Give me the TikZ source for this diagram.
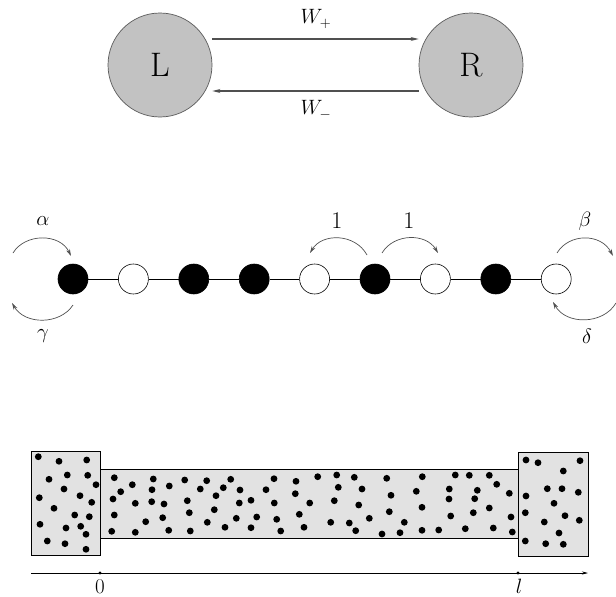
\documentclass[tikz,border=0pt]{standalone}
\usepackage{fontspec}
\usetikzlibrary{arrows.meta}
\definecolor{bubble}{HTML}{C2C2C2}
\definecolor{tubefill}{HTML}{E2E2E2}
\definecolor{arrgray}{HTML}{505050}
\tikzset{
  big/.style={circle,draw=black!65,fill=bubble,minimum size=104pt,inner sep=0pt,line width=0.7pt,font=\fontsize{34}{40}\selectfont},
  site/.style={circle,draw=black,minimum size=30pt,inner sep=0pt,line width=0.6pt},
  full/.style={site,fill=black},
  empty/.style={site,fill=white},
  lab/.style={font=\fontsize{21}{25}\selectfont,inner sep=0pt},
  num/.style={font=\fontsize{24}{28}\selectfont,inner sep=0pt},
  hop/.style={draw=arrgray,line width=0.7pt,-{Stealth[length=7pt,width=4pt]}},
  flow/.style={draw=arrgray,line width=1.2pt,-{Stealth[length=8pt,width=4pt]}},
  bond/.style={draw=black,line width=0.6pt},
  vessel/.style={draw=black,fill=tubefill,line width=0.8pt},
  dotp/.style={fill=black}
}
\begin{document}
\begin{tikzpicture}[x=1pt,y=-1pt]
\useasboundingbox (0,0) rectangle (616,597);
% top
\node[big] (L) at (160,65) {L};
\node[big] (R) at (471,65) {R};
\draw[flow] ([yshift=26pt]L.east) -- ([yshift=26pt]R.west);
\draw[flow] ([yshift=-26pt]R.west) -- ([yshift=-26pt]L.east);
\node[lab] (wp) at (316,19) {$W_+$};
\node[lab] (wm) at (316,110) {$W_-$};
% chain
\foreach \i/\s in {0/full,1/empty,2/full,3/full,4/empty,5/full,6/empty,7/full,8/empty}{
  \node[\s] (c\i) at ({73+60.4*\i},279) {};
}
\foreach \i [evaluate=\i as \j using int(\i+1)] in {0,...,7}{
  \draw[bond] (c\i) -- (c\j);
}
\coordinate (a1) at (13,253); \coordinate (a2) at (71,256);
\draw[hop] (a1) .. controls (25,233) and (60,233) .. (a2);
\coordinate (g1) at (73,305); \coordinate (g2) at (12,303);
\draw[hop] (g1) .. controls (60,325) and (25,325) .. (g2);
\coordinate (l1) at (367,255); \coordinate (l2) at (310,253);
\draw[hop] (l1) .. controls (355,233) and (322,233) .. (l2);
\coordinate (r1) at (382,253); \coordinate (r2) at (438,253);
\draw[hop] (r1) .. controls (394,233) and (426,233) .. (r2);
\coordinate (b1) at (557,253); \coordinate (b2) at (613,256);
\draw[hop] (b1) .. controls (569,233) and (601,233) .. (b2);
\coordinate (d1) at (616,303); \coordinate (d2) at (553,302);
\draw[hop] (d1) .. controls (603,325) and (566,325) .. (d2);
\node[lab] (alpha) at (43,221) {$\alpha$};
\node[lab] (gamma) at (43,336) {$\gamma$};
\node[num] (one1) at (337,221) {1};
\node[num] (one2) at (409,221) {1};
\node[lab] (beta) at (585,221) {$\beta$};
\node[lab] (delta) at (587,336) {$\delta$};
% bottom
\draw[vessel] (100,469) rectangle (518,538);
\draw[vessel] (31,451) rectangle (100,555);
\draw[vessel] (518,452) rectangle (588,556);
\foreach \x/\y in {38.3/456.7,59/461.3,86.7/460,49/479.3,67.3/475,87.7/475.3,96/484.7,64/489,80/495.7,39.3/497.7,91.7/502.3,54/508.3,74.7/515,89.3/516.7,40/524.3,66/528,80.7/526.3,86/534.3,47.3/541,65/543.7,86/549.3,
114.3/477.7,132.3/484.7,153.3/479,120.7/491.7,152/489.7,169.3/486,184.7/480,206.7/480.7,200.3/489,223.3/487.7,230.7/479.3,240/490,274/478.7,266/489.7,296/481.3,317.7/476.7,113/499,135.3/503.3,151.7/501.7,164/504,187.3/500.7,216/495.7,214.3/509.7,239.3/503,251/500.3,274.3/503,295.3/493.7,309.7/503,114.3/515,145.7/521.7,162.7/517.7,189.3/512.7,207.3/522.3,236.3/518.3,256.7/517,276.7/519.3,299.3/514.3,111.7/531.3,135.3/532.3,168.7/530.3,190.3/531,225/527.3,251/527.7,280.7/531,304/527.3,
336.7/475,354.3/477.3,338.3/487.3,362/489,334.3/500.7,358.7/505,386.7/478.3,422.3/476.7,391/495.3,416.3/491.3,389.3/511.7,422/507.3,369.3/518.3,330.7/522.3,349.3/523,355.7/530.7,382/534,400/532.7,404.3/522.3,422/530.3,438.7/530,455.3/475,469.3/475.3,489.3/475.3,496.7/484.3,449.3/489,477.3/490.3,509.3/493.3,449/499,474.7/498.7,489.3/508,473.3/512.7,450.7/516,511/517,465.3/528.7,493.3/528,512.3/532,
526/460,538/462.7,580/460.7,563.3/471,526/496,547.3/488.7,562/488.7,578.3/492.3,554/503.3,525.3/512.7,565/515.7,579.3/520.3,544.3/522,559/533,525.3/541,545.7/543.7,563.3/544.3}{
  \fill[dotp] (\x,\y) circle (3.4);
}
% axis
\coordinate (ax0) at (31,573);
\coordinate (ax1) at (588,573);
\coordinate (t0) at (100,573);
\coordinate (tl) at (518,573);
\draw[line width=0.6pt,-{Stealth[length=6pt,width=3pt]}] (ax0) -- (ax1);
\fill (t0) circle (1.6);
\fill (tl) circle (1.6);
\node[lab] (zero) at (100,587) {0};
\node[lab] (ell) at (519,586) {$l$};
\end{tikzpicture}
\end{document}
